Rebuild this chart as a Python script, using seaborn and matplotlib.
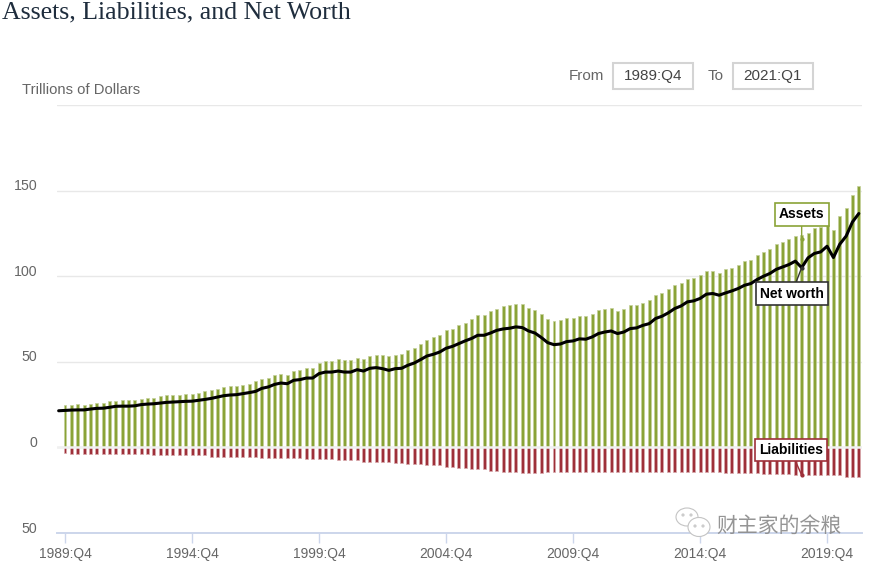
import matplotlib
matplotlib.use("Agg")
import matplotlib.pyplot as plt
import seaborn as sns
from matplotlib.patches import Rectangle, Ellipse
from matplotlib.transforms import ScaledTranslation, IdentityTransform

W, H = 870, 564

assets = [24.6,24.6,25.4,24.6,25.4,26.1,26.1,26.9,26.9,27.5,27.5,27.5,28.3,29,29,29.8,30.4,30.4,30.4,31.2,31.2,32,32.9,33.5,34.1,35.1,35.7,35.7,36.3,37,38.6,39.8,
          40.7,42.1,43.1,42.1,44.4,45,46.6,46.6,49.5,50.3,50.3,51.6,50.9,50.9,52.4,51.6,53.2,53.8,
          53.8,53.2,53.8,54.6,56.7,58.3,60.6,62.6,64.2,65.5,68.4,69.4,71.3,72.9,74.9,77.2,77.2,79.5,80.9,82.5,83,83.8,83.8,81.7,80.1,78.2,75,73.7,74.3,75.8,75.8,76.6,76.6,78.2,80.1,
          80.9,81.7,79.5,80.9,83,83,84.6,
          86,88.9,89.9,92.6,94.7,96.3,98.2,99.2,100.6,103,103.3,102,104,105,106.4,108.8,109.4,112.3,113.9,115.8,118.7,119.7,121.6,123.4,124,125.5,128.4,129,129.8,126.9,135,139.6,147.4,152.6]
net_worth = [21.6,21.8,21.9,21.9,22.4,22.8,22.9,23.4,24,24.1,24.1,24.3,25,25.3,25.5,25.9,26.3,26.5,26.7,26.9,27,27.5,28,28.6,29.4,30.2,30.6,30.8,31.4,32,32.7,34.5,
             35.3,36.8,37.6,37.2,39.2,39.6,40.5,40.5,43.1,44,44,44.6,44,44,45.4,44.6,46.2,46.6,
             46,45,46,46.2,48,49.3,51.3,53.4,54.4,55.7,57.9,59,60.6,62.2,63.6,65.5,65.5,66.8,68.4,69.2,69.6,70.4,70,68,66.8,64.2,61.2,60,60.4,61.8,62.2,63.4,63.2,64.5,66.5,
             67.4,68,66.5,67.4,69.4,69.8,71.3,
             72.3,75.3,76.6,78.6,81.1,82.6,85,85.6,87,89.5,89.9,88.9,90.2,91.4,92.8,94.7,95.7,98.1,100,101.6,104,105.4,106.8,108.8,105,110.7,113.3,114.2,117.5,110.9,118.7,123.4,131.7,136.6]
net_worth_before_start = 21.4
liabilities = [3.1,
               3.9,3.9,3.9,3.9,3.9,3.9,3.9,3.9,3.9,3.9,3.9,3.9,3.9,
               4.7,4.7,4.7,4.7,4.7,4.7,4.7,4.7,4.7,
               5.5,5.5,5.5,5.5,5.5,5.5,5.5,5.7,
               6.2,6.2,6.2,6.2,6.2,6.2,6.2,
               6.8,6.8,6.8,6.8,6.8,
               7.6,7.6,7.6,7.6,
               8.4,8.4,8.4,8.4,8.4,
               9.2,9.2,9.8,9.8,9.8,10.5,10.5,10.5,11.3,11.3,12.1,12.1,12.7,12.7,12.7,13.5,13.5,
               14.2,14.2,14.2,15,15,15,15,
               14.2,14.2,14.2,14.2,14.2,14.2,14.2,14.2,14.2,14.2,14.2,14.2,14.2,14.2,
               14.2,14.2,14.2,14.2,14.2,14.2,14.2,14.2,14.2,14.2,14.2,14.2,14.2,14.2,
               15,15,15,15,15,15,
               15.4,15.4,15.4,15.4,15.4,
               16.2,16.2,16.2,16.2,16.2,16.2,16.2,16.2,
               17,17,17]
x_tick_labels = ["1989:Q4","1994:Q4","1999:Q4","2004:Q4","2009:Q4","2014:Q4","2019:Q4"]
y_tick_values = [-50,0,50,100,150,200]
y_tick_labels = ["50","0","50","100","150",""]

GREEN = "#8aa337"
RED = "#9e3039"
GREY = "#666666"
AXIS = "#ccd6eb"
GRID = "#e8e8e8"

sns.set_style("white")
plt.rcParams['font.family'] = ['Liberation Sans', 'DejaVu Sans']

quarters = list(range(len(assets)))
fig = plt.figure(figsize=(W/100, H/100), dpi=100)
ax = fig.add_axes([57/W, 1-533/H, (862-57)/W, (533-105)/H])

sns.barplot(x=quarters, y=assets, native_scale=True, color=GREEN, saturation=1, width=0.47,
            linewidth=0.5, edgecolor="#c4d19a", ax=ax, zorder=3)
sns.barplot(x=quarters, y=[-v for v in liabilities], native_scale=True, color=RED, saturation=1, width=0.47,
            linewidth=0.5, edgecolor="#d9a9ad", ax=ax, zorder=3)
sns.lineplot(x=[-1]+quarters, y=[net_worth_before_start]+net_worth, color="black", linewidth=2.2, ax=ax, zorder=5,
             errorbar=None, sort=False)
ax.axhline(0, color="#f0f0f0", linewidth=1.8, zorder=4)

ax.set_xlim(-1.26, 125.5)
ax.set_ylim(-50, 200)
ax.set_xlabel("")
ax.set_ylabel("")
for s in ("top", "left", "right"):
    ax.spines[s].set_visible(False)
ax.spines["bottom"].set_color(AXIS)
ax.spines["bottom"].set_linewidth(1.4)
ax.set_axisbelow(True)
ax.yaxis.grid(True, color=GRID, linewidth=1)
ax.xaxis.grid(False)

ax.set_xticks(range(0, len(assets), 20), x_tick_labels)
ax.set_yticks(y_tick_values, y_tick_labels)
ax.tick_params(axis="x", bottom=True, length=7, width=1, color=AXIS, labelsize=10, labelcolor=GREY, pad=3)
ax.tick_params(axis="y", left=False, labelsize=10.2, labelcolor=GREY, pad=10.5)
shift = ScaledTranslation(0, 4.3/72, fig.dpi_scale_trans)
for lab in ax.get_yticklabels():
    lab.set_transform(lab.get_transform() + shift)

def note(text, i, value, ox, oy, edge, line):
    ax.annotate(text, xy=(i, value), xytext=(ox, oy), textcoords="offset pixels",
                ha="center", va="center", fontsize=10, fontweight="bold", color="black", zorder=8,
                bbox=dict(boxstyle="square,pad=0.3", fc="white", ec=edge, lw=1.2),
                arrowprops=dict(arrowstyle="-", color=line, lw=1, shrinkA=0, shrinkB=0))
    ax.plot([i], [value], marker="o", ms=2, color=line, zorder=7)

note("Assets", 116, 121.5, 0, 25, GREEN, GREEN)
note("Net worth", 116, 105, -10, -26, "#333333", "#333333")
note("Liabilities", 116, -16.2, -11, 25, RED, RED)

def px_text(x, y, s, **kw):
    fig.text(x/W, 1-y/H, s, **kw)

px_text(2, 12, "Assets, Liabilities, and Net Worth", family="Liberation Serif", fontsize=18.6,
        color="#1f2d3d", va="center", ha="left")
px_text(22, 89.5, "Trillions of Dollars", fontsize=10.7, color=GREY, va="center")
px_text(569, 75.5, "From", fontsize=11, color=GREY, va="center")
px_text(708, 75.5, "To", fontsize=11, color=GREY, va="center")
for x0, x1, s in ((613, 693, "1989:Q4"), (733, 813, "2021:Q1")):
    fig.add_artist(Rectangle((x0/W, 1-89/H), (x1-x0)/W, 26/H, transform=fig.transFigure,
                             fc="white", ec="#d4d4d4", lw=1.5))
    px_text((x0+x1)/2, 76, s, fontsize=11, color="#444444", va="center", ha="center")

# watermark
def bubble(cx, cy, rx, ry):
    fig.add_artist(Ellipse((cx, H-cy), 2*rx, 2*ry, transform=IdentityTransform(),
                           fc="white", ec="#c4c4c4", lw=0.8, zorder=9))
bubble(687, 517, 11, 9)
bubble(699, 527, 11, 9.5)
for ex, ey in ((683, 515), (691, 515), (695, 526), (703, 526)):
    bubble(ex, ey, 1.0, 1.0)
px_text(716, 526, "财主家的余粮", family=["Noto Sans CJK SC", "DejaVu Sans"], fontsize=15, color="#8a8a8a",
        va="center", ha="left", alpha=0.9, zorder=9)

fig.savefig("out.png", dpi=100, facecolor="white")
